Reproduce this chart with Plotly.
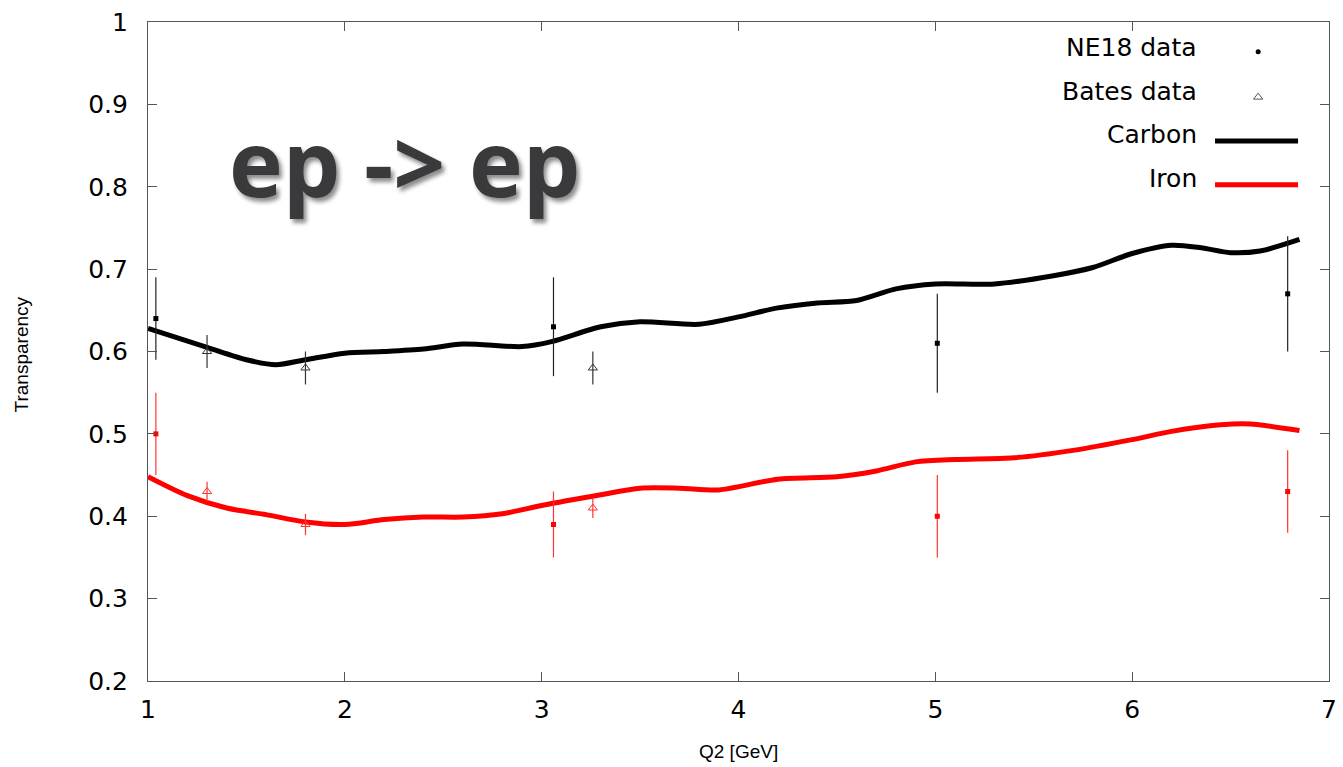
import plotly.graph_objects as go

# ---------------- data ----------------
carbon_x = [1.0, 1.3, 1.5, 1.65, 1.8, 2.0, 2.2, 2.4, 2.6, 2.9, 3.05, 3.3, 3.5, 3.8, 4.0, 4.2,
            4.4, 4.6, 4.8, 5.0, 5.3, 5.6, 5.8, 6.0, 6.2, 6.35, 6.5, 6.65, 6.85]
carbon_y = [0.628, 0.605, 0.59, 0.584, 0.59, 0.598, 0.600, 0.603, 0.609, 0.606, 0.612, 0.630,
            0.636, 0.633, 0.642, 0.653, 0.659, 0.662, 0.676, 0.682, 0.682, 0.692, 0.702, 0.719,
            0.729, 0.726, 0.720, 0.722, 0.736]

iron_x = [1.0, 1.2, 1.4, 1.6, 1.8, 2.0, 2.2, 2.4, 2.6, 2.8, 3.0, 3.3, 3.5, 3.7, 3.9, 4.2,
          4.5, 4.7, 4.9, 5.1, 5.4, 5.7, 6.0, 6.2, 6.45, 6.6, 6.85]
iron_y = [0.448, 0.425, 0.41, 0.402, 0.393, 0.390, 0.396, 0.399, 0.399, 0.403, 0.413, 0.426,
          0.434, 0.434, 0.432, 0.445, 0.448, 0.455, 0.466, 0.469, 0.471, 0.480, 0.493, 0.503,
          0.511, 0.512, 0.504]

ne18_x = [1.04, 3.06, 5.01, 6.79]
ne18_carbon = [0.64, 0.63, 0.61, 0.67]
ne18_carbon_err = [0.05, 0.06, 0.06, 0.07]
ne18_iron = [0.50, 0.39, 0.40, 0.43]
ne18_iron_err = [0.05, 0.04, 0.05, 0.05]

bates_x = [1.30, 1.80, 3.26]
bates_carbon = [0.60, 0.58, 0.58]
bates_carbon_err = [0.02, 0.02, 0.02]
bates_iron = [0.43, 0.39, 0.41]
bates_iron_err = [0.012, 0.013, 0.012]

legend_labels = ["NE18 data", "Bates data", "Carbon", "Iron"]

x_ticks = [1, 2, 3, 4, 5, 6, 7]
y_ticks = [0.2, 0.3, 0.4, 0.5, 0.6, 0.7, 0.8, 0.9, 1.0]
y_ticklabels = ["0.2", "0.3", "0.4", "0.5", "0.6", "0.7", "0.8", "0.9", "1"]

# ---------------- figure ----------------
fig = go.Figure()

fig.add_trace(go.Scatter(x=carbon_x, y=carbon_y, mode="lines",
                         line=dict(color="black", width=5, shape="spline", smoothing=0.8)))
fig.add_trace(go.Scatter(x=iron_x, y=iron_y, mode="lines",
                         line=dict(color="#ff0000", width=5, shape="spline", smoothing=0.8)))

fig.add_trace(go.Scatter(x=ne18_x, y=ne18_carbon, mode="markers",
                         marker=dict(symbol="square", size=5, color="black"),
                         error_y=dict(type="data", array=ne18_carbon_err, width=0,
                                      thickness=1.2, color="#222222")))
fig.add_trace(go.Scatter(x=ne18_x, y=ne18_iron, mode="markers",
                         marker=dict(symbol="square", size=5, color="#ff0000"),
                         error_y=dict(type="data", array=ne18_iron_err, width=0,
                                      thickness=1.2, color="#ff3333")))
fig.add_trace(go.Scatter(x=bates_x, y=bates_carbon, mode="markers",
                         marker=dict(symbol="triangle-up-open", size=8, color="#333333",
                                     line=dict(width=1)),
                         error_y=dict(type="data", array=bates_carbon_err, width=0,
                                      thickness=1.2, color="#333333")))
fig.add_trace(go.Scatter(x=bates_x, y=bates_iron, mode="markers",
                         marker=dict(symbol="triangle-up-open", size=8, color="#ff3333",
                                     line=dict(width=1)),
                         error_y=dict(type="data", array=bates_iron_err, width=0,
                                      thickness=1.2, color="#ff3333")))

# ---- custom legend (text left of symbol, gnuplot style) on overlay axes ----
leg_text_x = 0.890
leg_rows_y = [0.962, 0.895, 0.829, 0.762]
for lab, yy in zip(legend_labels, leg_rows_y):
    fig.add_annotation(x=leg_text_x, y=yy, xref="paper", yref="paper", text=lab,
                       showarrow=False, xanchor="right", yanchor="middle",
                       font=dict(family="DejaVu Sans", size=25, color="black"))

fig.add_trace(go.Scatter(x=[0.940], y=[0.955], mode="markers", xaxis="x2", yaxis="y2",
                         marker=dict(symbol="circle", size=5, color="black")))
fig.add_trace(go.Scatter(x=[0.940], y=[0.886], mode="markers", xaxis="x2", yaxis="y2",
                         marker=dict(symbol="triangle-up-open", size=8, color="#555555",
                                     line=dict(width=1))))
fig.add_trace(go.Scatter(x=[0.9035, 0.9738], y=[0.8196, 0.8196], mode="lines",
                         xaxis="x2", yaxis="y2", line=dict(color="black", width=5)))
fig.add_trace(go.Scatter(x=[0.9035, 0.9738], y=[0.7529, 0.7529], mode="lines",
                         xaxis="x2", yaxis="y2", line=dict(color="#ff0000", width=5)))

# ---- big title text ----
fig.add_annotation(x=0.2176, y=0.787, xref="paper", yref="paper", text="<b>ep -&gt; ep</b>",
                   showarrow=False, xanchor="center", yanchor="middle",
                   font=dict(family="Open Sans", size=91, color="#3a3a3c",
                             shadow="3px 4px 4px rgba(0,0,0,0.45)"))

# ---- axis titles ----
fig.add_annotation(x=-0.107, y=0.495, xref="paper", yref="paper", text="Transparency",
                   showarrow=False, textangle=-90, xanchor="center", yanchor="middle",
                   font=dict(family="Liberation Sans", size=19, color="black"))
fig.add_annotation(x=0.5, y=-0.107, xref="paper", yref="paper", text="Q2 [GeV]",
                   showarrow=False, xanchor="center", yanchor="middle",
                   font=dict(family="Liberation Sans", size=19, color="black"))

axis_common = dict(showline=True, linecolor="#555555", linewidth=1.2, mirror="allticks",
                   ticks="inside", ticklen=9, tickcolor="#555555", tickwidth=1,
                   showgrid=False, zeroline=False, automargin=False,
                   ticklabeloverflow="allow",
                   tickfont=dict(family="DejaVu Sans", size=25, color="black"))

# The page body adds an 8px offset, so the figure is sized/margined to compensate.
fig.update_layout(
    width=1335, height=759,
    margin=dict(l=140, r=14, t=14, b=86, autoexpand=False),
    paper_bgcolor="white", plot_bgcolor="white",
    showlegend=False,
    xaxis=dict(range=[1, 7], tickvals=x_ticks, ticklabelstandoff=6, **axis_common),
    yaxis=dict(range=[0.2, 1.0], tickvals=y_ticks, ticktext=y_ticklabels,
               ticklabelstandoff=14, **axis_common),
    xaxis2=dict(overlaying="x", range=[0, 1], visible=False, fixedrange=True),
    yaxis2=dict(overlaying="y", range=[0, 1], visible=False, fixedrange=True),
)

fig.write_html("out.html")
